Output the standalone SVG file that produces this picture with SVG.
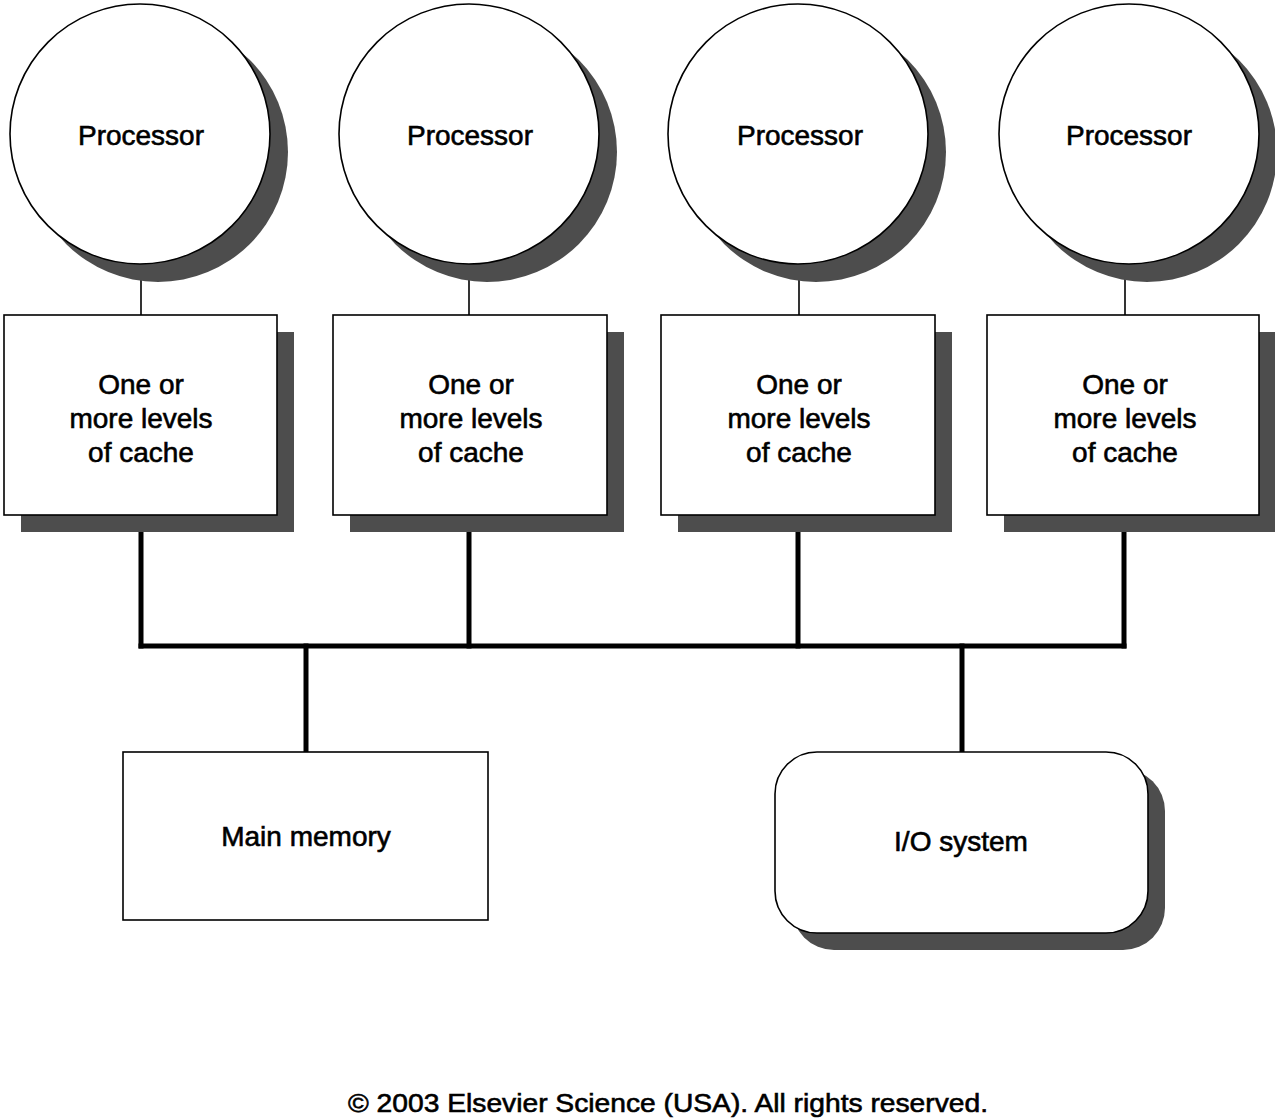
<svg xmlns="http://www.w3.org/2000/svg" width="1275" height="1118" viewBox="0 0 1275 1118">
<style>
.sh{fill:#4d4d4d;stroke:none}
.nd{fill:#fff;stroke:#000;stroke-width:1.6}
.t{font-family:"Liberation Sans",Arial,sans-serif;font-size:28px;fill:#000;stroke:#000;stroke-width:0.6;text-anchor:middle}
.thin{stroke:#000;stroke-width:1.6;fill:none}
.bus{stroke:#000;stroke-width:5;fill:none;stroke-linecap:square}
</style>
<rect width="1275" height="1118" fill="#fff"/>
<g id="connectors">
<line class="thin" x1="141" y1="264" x2="141" y2="315"/>
<line class="thin" x1="469" y1="264" x2="469" y2="315"/>
<line class="thin" x1="799" y1="264" x2="799" y2="315"/>
<line class="thin" x1="1125" y1="264" x2="1125" y2="315"/>
<line class="bus" x1="141" y1="516" x2="141" y2="646"/>
<line class="bus" x1="469" y1="516" x2="469" y2="646"/>
<line class="bus" x1="798" y1="516" x2="798" y2="646"/>
<line class="bus" x1="1124" y1="516" x2="1124" y2="646"/>
<line class="bus" x1="141" y1="646" x2="1124" y2="646"/>
<line class="bus" x1="306" y1="646" x2="306" y2="751"/>
<line class="bus" x1="962" y1="646" x2="962" y2="751"/>
</g>
<g id="proc1"><circle class="sh" cx="158" cy="152" r="130"/><circle class="nd" cx="140" cy="134" r="130"/><text class="t" x="141" y="145">Processor</text></g>
<g id="proc2"><circle class="sh" cx="487" cy="152" r="130"/><circle class="nd" cx="469" cy="134" r="130"/><text class="t" x="470" y="145">Processor</text></g>
<g id="proc3"><circle class="sh" cx="816" cy="152" r="130"/><circle class="nd" cx="798" cy="134" r="130"/><text class="t" x="800" y="145">Processor</text></g>
<g id="proc4"><circle class="sh" cx="1147" cy="152" r="130"/><circle class="nd" cx="1129" cy="134" r="130"/><text class="t" x="1129" y="145">Processor</text></g>
<g id="cache1"><rect class="sh" x="21" y="332" width="273" height="200"/><rect class="nd" x="4" y="315" width="273" height="200"/><text class="t" x="141" y="394">One or</text><text class="t" x="141" y="428">more levels</text><text class="t" x="141" y="462">of cache</text></g>
<g id="cache2"><rect class="sh" x="350" y="332" width="274" height="200"/><rect class="nd" x="333" y="315" width="274" height="200"/><text class="t" x="471" y="394">One or</text><text class="t" x="471" y="428">more levels</text><text class="t" x="471" y="462">of cache</text></g>
<g id="cache3"><rect class="sh" x="678" y="332" width="274" height="200"/><rect class="nd" x="661" y="315" width="274" height="200"/><text class="t" x="799" y="394">One or</text><text class="t" x="799" y="428">more levels</text><text class="t" x="799" y="462">of cache</text></g>
<g id="cache4"><rect class="sh" x="1004" y="332" width="272" height="200"/><rect class="nd" x="987" y="315" width="272" height="200"/><text class="t" x="1125" y="394">One or</text><text class="t" x="1125" y="428">more levels</text><text class="t" x="1125" y="462">of cache</text></g>
<g id="mainmem"><rect class="nd" x="123" y="752" width="365" height="168"/><text class="t" x="306" y="846">Main memory</text></g>
<g id="io"><rect class="sh" x="792" y="769" width="373" height="181" rx="42" ry="42"/><rect class="nd" x="775" y="752" width="373" height="181" rx="42" ry="42"/><text class="t" x="961" y="851">I/O system</text></g>
<text class="t" x="348" y="1112" textLength="640" lengthAdjust="spacingAndGlyphs" style="font-size:26.5px;text-anchor:start">© 2003 Elsevier Science (USA). All rights reserved.</text>
</svg>
